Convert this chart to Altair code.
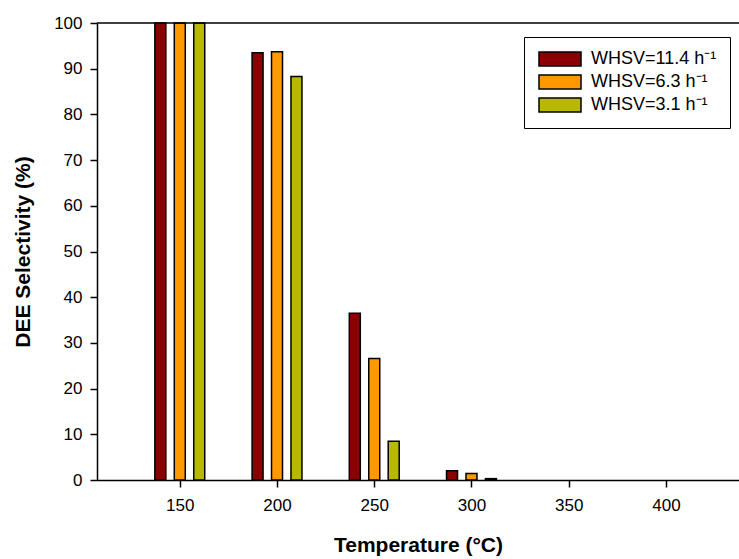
import altair as alt
import pandas as pd

temps = [150, 200, 250, 300]
series = ["WHSV=11.4 h⁻¹", "WHSV=6.3 h⁻¹", "WHSV=3.1 h⁻¹"]
whsv_114 = [100, 93.5, 36.5, 2.0]
whsv_63 = [100, 93.7, 26.6, 1.4]
whsv_31 = [100, 88.3, 8.5, 0.3]
colors = ["#8B0000", "#FF9900", "#B8B800"]
x_ticks = [150, 200, 250, 300, 350, 400]
y_ticks = [0, 10, 20, 30, 40, 50, 60, 70, 80, 90, 100]

rows = []
for i, (name, vals) in enumerate(zip(series, [whsv_114, whsv_63, whsv_31])):
    for t, v in zip(temps, vals):
        rows.append({"temp": t, "series": name, "idx": i, "value": v})
df = pd.DataFrame(rows)

W, H = 642, 457
FONT = "Liberation Sans"

xscale = alt.Scale(domain=[110, 435], nice=False, zero=False)
yscale = alt.Scale(domain=[0, 100], nice=False)

bars = alt.Chart(df).transform_calculate(
    xpos="datum.temp + (datum.idx - 1) * 10"
).mark_bar(size=11, stroke="black", strokeWidth=1.5).encode(
    x=alt.X("xpos:Q", scale=xscale,
            axis=alt.Axis(values=x_ticks, title="Temperature (°C)",
                          labelPadding=10, titlePadding=21)),
    y=alt.Y("value:Q", scale=yscale,
            axis=alt.Axis(values=y_ticks, title="DEE Selectivity (%)",
                          labelPadding=8, titlePadding=20)),
    color=alt.Color("series:N", scale=alt.Scale(domain=series, range=colors),
                    legend=alt.Legend(
                        title=None, orient="none", legendX=427, legendY=14,
                        symbolType="M-3,-1H3V1H-3Z", symbolSize=196,
                        symbolOffset=14,
                        symbolStrokeColor="black", symbolStrokeWidth=1.5,
                        labelFont=FONT, labelFontSize=18, labelColor="black",
                        strokeColor="black", padding=13, rowPadding=3,
                        labelOffset=22, fillColor="white")),
)

top = alt.Chart(pd.DataFrame({"value": [100]})).mark_rule(
    color="black", strokeWidth=1.5
).encode(y=alt.Y("value:Q", scale=yscale), x=alt.value(0), x2=alt.value(W))

chart = alt.layer(bars, top).properties(
    width=W, height=H,
    autosize=alt.AutoSizeParams(type="none"),
    padding={"left": 97, "top": 23, "right": 0, "bottom": 79},
).configure_view(stroke=None).configure_axis(
    grid=False, domainColor="black", domainWidth=1.5, tickColor="black",
    tickWidth=1.5, tickSize=7, labelColor="black", labelFont=FONT,
    labelFontSize=17, titleFont=FONT, titleFontSize=21, titleFontWeight="bold",
    titleColor="black"
)

chart.save("out.html", embed_options={"renderer": "svg", "actions": False})
